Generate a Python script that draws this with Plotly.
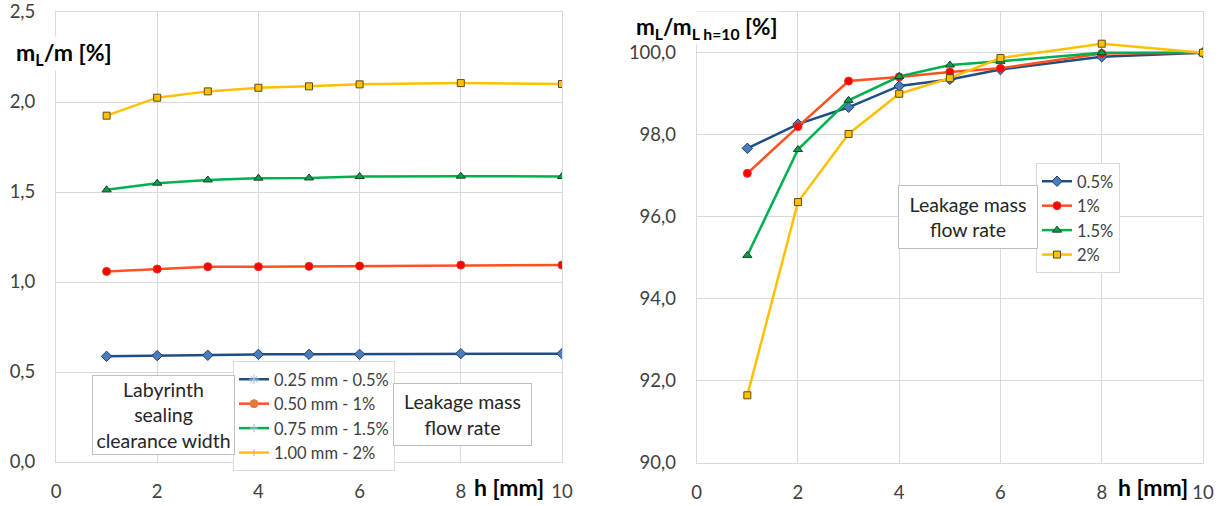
import plotly.graph_objects as go

W, H = 1225, 506

# ---------------- data ----------------
h_mm = [1, 2, 3, 4, 5, 6, 8, 10]

# left chart: m_L/m [%]
left_05 = [0.587, 0.591, 0.593, 0.598, 0.598, 0.598, 0.602, 0.602]
left_10 = [1.059, 1.072, 1.085, 1.085, 1.087, 1.089, 1.094, 1.094]
left_15 = [1.512, 1.549, 1.567, 1.577, 1.578, 1.586, 1.588, 1.586]
left_20 = [1.924, 2.024, 2.059, 2.079, 2.087, 2.098, 2.105, 2.100]

# right chart: m_L/m_L,h=10 [%]
right_05 = [97.67, 98.26, 98.67, 99.19, 99.35, 99.59, 99.90, 100.0]
right_10 = [97.06, 98.20, 99.31, 99.41, 99.53, 99.62, 99.98, 100.0]
right_15 = [95.06, 97.64, 98.84, 99.42, 99.70, 99.79, 100.0, 100.0]
right_20 = [91.65, 96.36, 98.02, 99.00, 99.38, 99.87, 100.22, 100.0]

left_legend_names = ["0.25 mm - 0.5%", "0.50 mm - 1%", "0.75 mm - 1.5%", "1.00 mm - 2%"]
right_legend_names = ["0.5%", "1%", "1.5%", "2%"]

x_ticks = [0, 2, 4, 6, 8, 10]
left_y_ticks = [0.0, 0.5, 1.0, 1.5, 2.0, 2.5]
right_y_ticks = [90, 92, 94, 96, 98, 100]

# ---------------- styles ----------------
FONT = "Lato"
TXT = "#404040"
GRID = "#d9d9d9"

BLUE = "#1F4E85"
ORANGE = "#FF5020"
GREEN = "#00B050"
YELLOW = "#FFC000"

series_style = [
    dict(line=BLUE, marker=dict(symbol="diamond", size=8, color="#4A7EBB", line=dict(color="#1F3864", width=1))),
    dict(line=ORANGE, marker=dict(symbol="circle", size=8, color="#FF0000", line=dict(color="#E03020", width=1))),
    dict(line=GREEN, marker=dict(symbol="triangle-up", size=8, color="#00A050", line=dict(color="#1E3F1E", width=1))),
    dict(line=YELLOW, marker=dict(symbol="square", size=7, color="#FFC000", line=dict(color="#5A4A1A", width=1))),
]

left_legend_markers = [
    dict(symbol="asterisk-open", size=8, color="#9DC3E6", line=dict(color="#9DC3E6", width=1)),
    dict(symbol="circle", size=8, color="#E07B39", line=dict(color="#E07B39", width=1)),
    dict(symbol="cross-thin-open", size=6, color="#9DC3E6", line=dict(color="#9DC3E6", width=1)),
    dict(symbol="line-ns-open", size=5, color="#D59BB5", line=dict(color="#D59BB5", width=1)),
]

fig = go.Figure()

left_data = [left_05, left_10, left_15, left_20]
right_data = [right_05, right_10, right_15, right_20]

for i, ys in enumerate(left_data):
    st = series_style[i]
    fig.add_trace(go.Scatter(x=h_mm, y=ys, mode="lines+markers", xaxis="x", yaxis="y",
                             line=dict(color=st["line"], width=2.5), marker=st["marker"],
                             showlegend=False, hoverinfo="skip"))

# legend entries for the left chart (legend only)
for i, name in enumerate(left_legend_names):
    st = series_style[i]
    fig.add_trace(go.Scatter(x=[None], y=[None], mode="lines+markers", xaxis="x", yaxis="y",
                             name=name, line=dict(color=st["line"], width=2.5),
                             marker=left_legend_markers[i], legend="legend", showlegend=True))

for i, ys in enumerate(right_data):
    st = series_style[i]
    fig.add_trace(go.Scatter(x=h_mm, y=ys, mode="lines+markers", xaxis="x2", yaxis="y2",
                             name=right_legend_names[i], line=dict(color=st["line"], width=2.5),
                             marker=st["marker"], legend="legend2", showlegend=True))


def px_x(p):
    return p / W


def px_y(p):
    return 1 - p / H


axis_common = dict(showgrid=True, gridcolor=GRID, gridwidth=1, zeroline=False,
                   showline=True, linecolor=GRID, linewidth=1, mirror=True,
                   tickfont=dict(family=FONT, size=18.5, color=TXT), automargin=False,
                   ticks="outside", tickcolor="rgba(0,0,0,0)")

LEG_FONT = dict(family=FONT, size=16.5, color=TXT)

fig.update_layout(
    width=W, height=H,
    margin=dict(l=0, r=0, t=0, b=0),
    paper_bgcolor="white", plot_bgcolor="white",
    separators=",.",
    font=dict(family=FONT, size=17, color=TXT),
    xaxis=dict(domain=[px_x(56), px_x(562)], range=[0, 10], tickvals=x_ticks, ticklen=13,
               anchor="y", **axis_common),
    yaxis=dict(domain=[px_y(462), px_y(12)], range=[0, 2.5], tickvals=left_y_ticks,
               tickformat=".1f", ticklen=16, anchor="x", **axis_common),
    xaxis2=dict(domain=[px_x(696.7), px_x(1203)], range=[0, 10], tickvals=x_ticks, ticklen=13,
                anchor="y2", **axis_common),
    yaxis2=dict(domain=[px_y(463), px_y(11.7)], range=[90, 101], tickvals=right_y_ticks,
                tickformat=".1f", ticklen=16, anchor="x2", **axis_common),
    legend=dict(x=px_x(233), y=px_y(361), xanchor="left", yanchor="top",
                bgcolor="white", bordercolor=GRID, borderwidth=1,
                font=LEG_FONT, tracegroupgap=0, itemwidth=30),
    legend2=dict(x=px_x(1036), y=px_y(163), xanchor="left", yanchor="top",
                 bgcolor="white", bordercolor=GRID, borderwidth=1,
                 font=LEG_FONT, tracegroupgap=0, itemwidth=30),
)

TITLE_FONT = dict(family=FONT, size=23, color="black")
BOX_FONT = dict(family=FONT, size=19.5, color="#262626")

annots = [
    dict(text="<b>m<sub>L</sub>/m [%]</b>", x=px_x(14), y=px_y(53), xanchor="left", yanchor="middle",
         font=TITLE_FONT, bgcolor="white"),
    dict(text="<b>m<sub>L</sub>/m<sub>L h=10</sub> [%]</b>", x=px_x(634), y=px_y(28), xanchor="left",
         yanchor="middle", font=dict(family=FONT, size=22.5, color="black"), bgcolor="white"),
    dict(text="<b>h [mm]</b>", x=px_x(509), y=px_y(487), xanchor="center", yanchor="middle",
         font=TITLE_FONT, bgcolor="white"),
    dict(text="<b>h [mm]</b>", x=px_x(1153), y=px_y(487), xanchor="center", yanchor="middle",
         font=TITLE_FONT, bgcolor="white"),
    dict(text="Labyrinth<br>sealing<br>clearance width", x=px_x(163.5), y=px_y(415),
         xanchor="center", yanchor="middle", width=137, height=74, borderpad=2,
         bordercolor="#bfbfbf", borderwidth=1, bgcolor="white", align="center",
         font=BOX_FONT),
    dict(text="Leakage mass<br>flow rate", x=px_x(462.5), y=px_y(414.5),
         xanchor="center", yanchor="middle", width=133, height=57, borderpad=2,
         bordercolor="#bfbfbf", borderwidth=1, bgcolor="white", align="center",
         font=BOX_FONT),
    dict(text="Leakage mass<br>flow rate", x=px_x(968), y=px_y(217),
         xanchor="center", yanchor="middle", width=134, height=58, borderpad=2,
         bordercolor="#bfbfbf", borderwidth=1, bgcolor="white", align="center",
         font=BOX_FONT),
]
for a in annots:
    fig.add_annotation(xref="paper", yref="paper", showarrow=False, **a)

fig.write_html("out.html")
